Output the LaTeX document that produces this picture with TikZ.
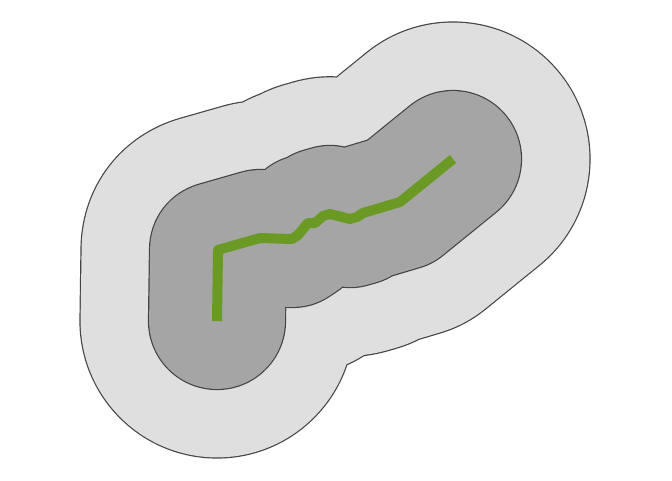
\documentclass[tikz,border=0pt]{standalone}
\definecolor{outerfill}{HTML}{DFDFDF}
\definecolor{innerfill}{HTML}{A5A5A5}
\definecolor{edge}{HTML}{444444}
\definecolor{route}{HTML}{6B9A24}
\begin{document}
\begin{tikzpicture}[x=1pt,y=-1pt,
  buf/.style={line cap=round,line join=round},
  routeline/.style={route,line width=10pt,line cap=butt,line join=round}]
\useasboundingbox (0,0) rectangle (672,480);
\def\route{(217,321) -- (218,250) -- (260,238) -- (292,239) -- (298,235) -- (308,223) -- (315,223) -- (323,216) -- (330,214) -- (350,219) -- (357,217) -- (363,213) -- (400,202) -- (453,159)}
\draw[buf,edge,line width=275.2pt] \route;
\draw[buf,outerfill,line width=272.8pt] \route;
\draw[buf,edge,line width=138.2pt] \route;
\draw[buf,innerfill,line width=135.8pt] \route;
\draw[routeline] \route;
\end{tikzpicture}
\end{document}
